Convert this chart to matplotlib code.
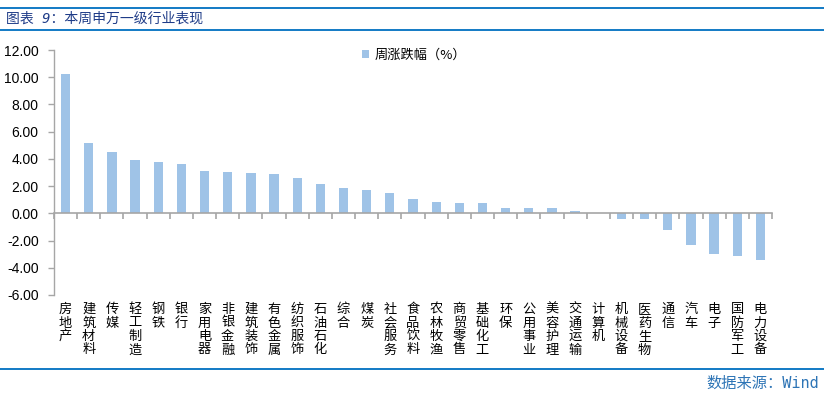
import matplotlib
matplotlib.use("Agg")
import matplotlib.pyplot as plt
import matplotlib.transforms as mtransforms
from matplotlib.lines import Line2D
import numpy as np

plt.rcParams['font.family'] = ['Liberation Sans', 'Noto Sans CJK SC', 'DejaVu Sans']

categories = ["房地产", "建筑材料", "传媒", "轻工制造", "钢铁", "银行", "家用电器", "非银金融",
              "建筑装饰", "有色金属", "纺织服饰", "石油石化", "综合", "煤炭", "社会服务", "食品饮料",
              "农林牧渔", "商贸零售", "基础化工", "环保", "公用事业", "美容护理", "交通运输", "计算机",
              "机械设备", "医药生物", "通信", "汽车", "电子", "国防军工", "电力设备"]
values = [10.24, 5.17, 4.51, 3.92, 3.77, 3.62, 3.11, 3.04,
          2.96, 2.89, 2.60, 2.15, 1.86, 1.71, 1.49, 1.05,
          0.83, 0.76, 0.76, 0.39, 0.39, 0.39, 0.17, 0.02,
          -0.42, -0.42, -1.23, -2.33, -2.99, -3.14, -3.43]
yticks = [-6, -4, -2, 0, 2, 4, 6, 8, 10, 12]
series_name = "周涨跌幅（%）"
title = "图表 9：本周申万一级行业表现"
source = "数据来源：Wind"

W, H = 824, 398
fig = plt.figure(figsize=(W / 100, H / 100), dpi=100)
ax = fig.add_axes([54 / W, 1 - 295 / H, (772 - 54) / W, (295 - 50) / H])

x = np.arange(len(categories))
bar_color = "#9FC3E7"
ax.bar(x, values, width=0.4, color=bar_color, label=series_name, zorder=2)

ax.set_xlim(-0.5, len(categories) - 0.5)
ax.set_ylim(-6, 12)
ax.set_yticks(yticks)
ax.set_yticklabels([f"{v:.2f}" for v in yticks], fontsize=10, color="#000000")

axis_color = "#A6A6A6"
for s in ["top", "right"]:
    ax.spines[s].set_visible(False)
ax.spines["left"].set_color(axis_color)
ax.spines["left"].set_linewidth(1.0)
ax.spines["bottom"].set_position(("data", 0))
ax.spines["bottom"].set_color(axis_color)
ax.spines["bottom"].set_linewidth(1.2)
ax.tick_params(axis="y", direction="out", length=4, color=axis_color, width=1.0, pad=7)

ax.set_xticks([])
ax.set_xticks(np.arange(-0.5, len(categories)), minor=True)
ax.tick_params(axis="x", which="minor", direction="out", length=4, color=axis_color, width=1.2, labelbottom=False)

trans = mtransforms.blended_transform_factory(ax.transData, ax.transAxes)
for xi, name in zip(x, categories):
    ax.text(xi, -8 / 245, "\n".join(name), transform=trans, ha="center", va="top",
            fontsize=9.5, linespacing=1.05, family=['Noto Sans CJK SC', 'DejaVu Sans'])

ax.legend(loc="center", bbox_to_anchor=(414 / W, 1 - 55 / H), bbox_transform=fig.transFigure,
          frameon=False, handlelength=0.55, handleheight=0.55, handletextpad=0.45,
          prop={'family': ['Noto Sans CJK SC', 'DejaVu Sans'], 'size': 9.5})

line_color = "#0070C0"
for yy in [8, 30, 369]:
    fig.add_artist(Line2D([0, 1], [1 - yy / H, 1 - yy / H], transform=fig.transFigure,
                          color=line_color, linewidth=1.3))

fig.text(6 / W, 1 - 19 / H, title, fontsize=10, color="#1F3C88", style="italic",
         ha="left", va="center", family=['DejaVu Sans Mono', 'Noto Sans CJK SC'])
fig.text(819 / W, 1 - 383 / H, source, fontsize=11, color="#2E75B6",
         ha="right", va="center", family=['DejaVu Sans Mono', 'Noto Sans CJK SC'])

fig.savefig("out.png", dpi=100)
